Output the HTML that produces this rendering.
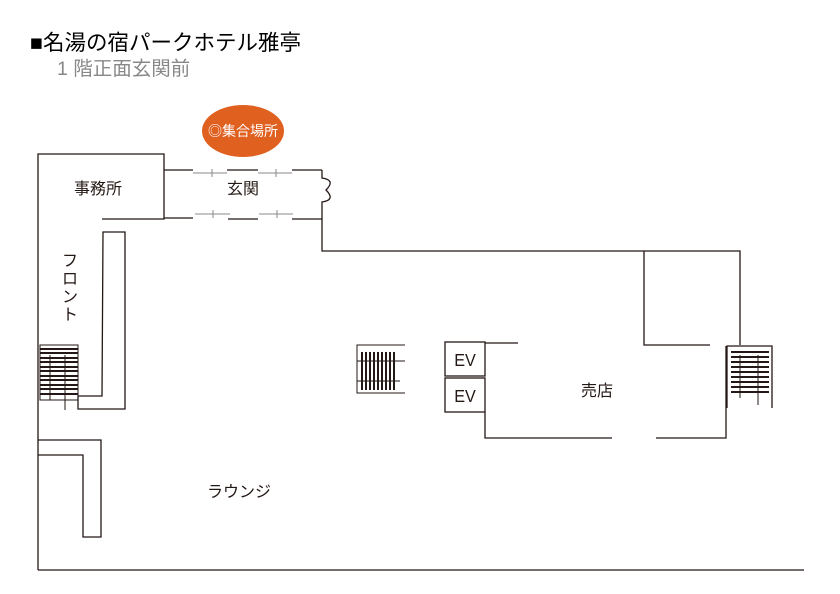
<!DOCTYPE html>
<html><head><meta charset="utf-8"><style>
html,body{margin:0;padding:0;background:#fff;}
svg{display:block;}
text{font-family:"Liberation Sans","Noto Sans CJK JP",sans-serif;}
</style></head><body>
<svg width="840" height="594" viewBox="0 0 840 594" xmlns="http://www.w3.org/2000/svg">
<text x="30" y="50" font-size="21.5" fill="#000">■名湯の宿パークホテル雅亭</text>
<text x="57" y="75" font-size="19.5" fill="#888">1 階正面玄関前</text>

<ellipse cx="243" cy="131" rx="41" ry="26" fill="#e06020"/>
<text x="243" y="136" font-size="14" fill="#fff" text-anchor="middle">◎集合場所</text>

<g stroke="#231815" stroke-width="1.3" fill="none">
<polyline points="38,570 38,154 164,154 164,219 102,219"/>
<line x1="164" y1="170" x2="193" y2="170"/>
<line x1="227" y1="170" x2="258" y2="170"/>
<line x1="292" y1="170" x2="322" y2="170"/>
<line x1="164" y1="218" x2="193" y2="218"/>
<line x1="228" y1="219" x2="258" y2="219"/>
<line x1="292" y1="219" x2="322" y2="219"/>
<path d="M322,170 L322,178 Q336,180 326,190 Q336,200 322,202 L322,251 L740,251 L740,345"/>
<polyline points="644,251 644,345 710,345"/>
<polygon points="103,232 125,232 125,409 78,409 78,396 102,396"/>
<line x1="38" y1="570" x2="804" y2="570"/>
<polyline points="38,440 101,440 101,537 83,537 83,455 38,455"/>
<rect x="445" y="342" width="40" height="34"/>
<rect x="445" y="378" width="40" height="34"/>
<line x1="485" y1="343" x2="518" y2="343"/>
<polyline points="485,412 485,438 612,438"/>
<polyline points="656,438 726,438 726,346"/>
<polyline points="727,408 727,346 772,346 772,408"/>
</g>
<g stroke="#888" stroke-width="1">
<line x1="193" y1="173" x2="227" y2="173"/><line x1="212" y1="169" x2="212" y2="177"/>
<line x1="258" y1="173" x2="292" y2="173"/><line x1="276" y1="169" x2="276" y2="177"/>
<line x1="195" y1="214" x2="230" y2="214"/><line x1="213" y1="210" x2="213" y2="218"/>
<line x1="259" y1="214" x2="293" y2="214"/><line x1="277" y1="210" x2="277" y2="218"/>
</g>
<g stroke="#231815" stroke-width="2">
<rect x="40" y="345" width="38" height="55" fill="none" stroke-width="1"/>
<line x1="40" y1="349" x2="78" y2="349"/><line x1="40" y1="353" x2="78" y2="353"/>
<line x1="40" y1="358" x2="78" y2="358"/><line x1="40" y1="362" x2="78" y2="362"/>
<line x1="40" y1="367" x2="78" y2="367"/><line x1="40" y1="371" x2="78" y2="371"/>
<line x1="40" y1="376" x2="78" y2="376"/><line x1="40" y1="380" x2="78" y2="380"/>
<line x1="40" y1="385" x2="78" y2="385"/><line x1="40" y1="389" x2="78" y2="389"/>
<line x1="40" y1="394" x2="78" y2="394"/>
<line x1="50" y1="355" x2="50" y2="400" stroke-width="1"/><line x1="65" y1="355" x2="65" y2="410" stroke-width="1"/>
</g>
<g stroke="#231815" stroke-width="2">
<polyline points="405,345 357,345 357,393 405,393" fill="none" stroke-width="1"/>
<line x1="362" y1="352" x2="362" y2="390"/><line x1="366" y1="352" x2="366" y2="390"/>
<line x1="370" y1="352" x2="370" y2="390"/><line x1="374" y1="352" x2="374" y2="390"/>
<line x1="378" y1="352" x2="378" y2="390"/><line x1="382" y1="352" x2="382" y2="390"/>
<line x1="386" y1="352" x2="386" y2="390"/><line x1="390" y1="352" x2="390" y2="390"/>
<line x1="394" y1="352" x2="394" y2="390"/>
<line x1="357" y1="361" x2="405" y2="361" stroke-width="1"/><line x1="357" y1="381" x2="400" y2="381" stroke-width="1"/>
</g>
<g stroke="#231815" stroke-width="2">
<line x1="731" y1="352" x2="769" y2="352"/><line x1="731" y1="357" x2="769" y2="357"/>
<line x1="731" y1="362" x2="769" y2="362"/><line x1="731" y1="367" x2="769" y2="367"/>
<line x1="731" y1="372" x2="769" y2="372"/><line x1="731" y1="377" x2="769" y2="377"/>
<line x1="731" y1="382" x2="769" y2="382"/><line x1="731" y1="387" x2="769" y2="387"/>
<line x1="731" y1="392" x2="769" y2="392"/>
<line x1="740" y1="355" x2="740" y2="398" stroke-width="1"/><line x1="758" y1="355" x2="758" y2="405" stroke-width="1"/>
</g>

<g font-size="16" fill="#231815" text-anchor="middle">
<text x="98" y="194">事務所</text>
<text x="243" y="194">玄関</text>
<text x="597" y="396">売店</text>
<text x="239" y="497">ラウンジ</text>
<text x="465" y="366" font-size="18" transform="translate(465 0) scale(0.9 1) translate(-465 0)">EV</text>
<text x="465" y="402" font-size="18" transform="translate(465 0) scale(0.9 1) translate(-465 0)">EV</text>
<text x="70" y="266">フ</text>
<text x="70" y="284">ロ</text>
<text x="70" y="302">ン</text>
<text x="70" y="320">ト</text>
</g>
</svg>
</body></html>
